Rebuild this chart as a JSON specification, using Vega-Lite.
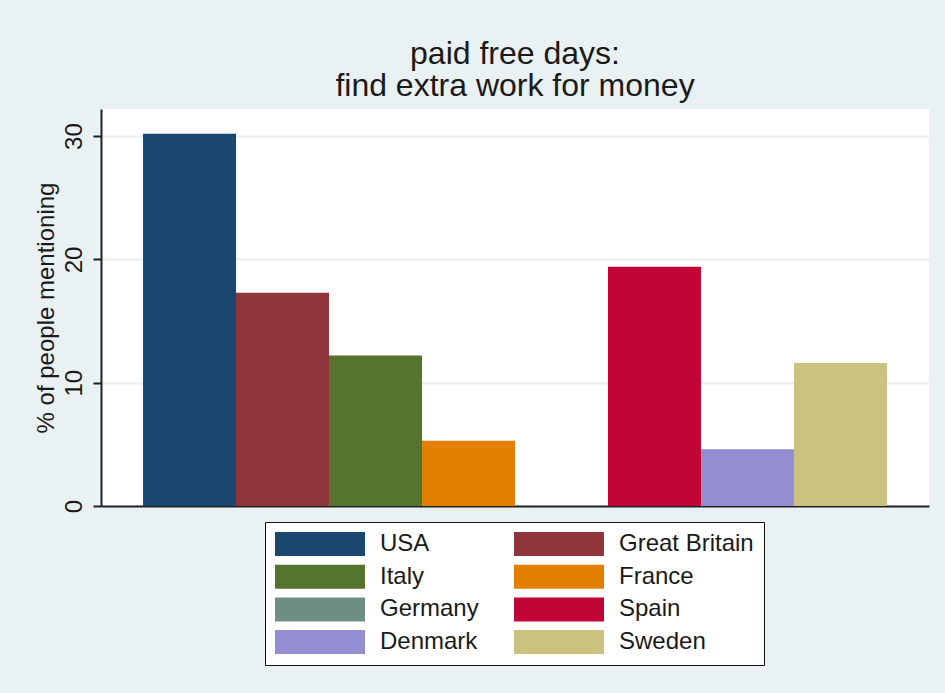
{
  "$schema": "https://vega.github.io/schema/vega-lite/v6.json",
  "width": 828,
  "height": 397,
  "autosize": {"type": "none"},
  "padding": {"left": 101, "top": 109, "right": 16, "bottom": 187},
  "background": "#e9f1f3",
  "view": {"fill": "white", "stroke": null},
  "title": {
    "text": ["paid free days:", "find extra work for money"],
    "fontSize": 32,
    "fontWeight": "normal",
    "font": "Liberation Sans",
    "color": "#1a1a1a",
    "lineHeight": 32,
    "anchor": "middle",
    "offset": 6
  },
  "config": {
    "font": "Liberation Sans"
  },
  "data": {
    "values": [
      {"country": "USA", "pct": 30.2},
      {"country": "Great Britain", "pct": 17.3},
      {"country": "Italy", "pct": 12.2},
      {"country": "France", "pct": 5.3},
      {"country": "Germany", "pct": 0},
      {"country": "Spain", "pct": 19.4},
      {"country": "Denmark", "pct": 4.6},
      {"country": "Sweden", "pct": 11.6}
    ]
  },
  "mark": {"type": "bar"},
  "encoding": {
    "x": {
      "field": "country",
      "type": "nominal",
      "sort": null,
      "scale": {"paddingInner": 0, "paddingOuter": 0.452},
      "axis": {
        "title": null,
        "labels": false,
        "ticks": false,
        "domain": true,
        "domainColor": "#222",
        "domainWidth": 2,
        "grid": false
      }
    },
    "y": {
      "field": "pct",
      "type": "quantitative",
      "scale": {"domain": [0, 32.2], "nice": false, "zero": true},
      "axis": {
        "title": "% of people mentioning",
        "titleFontSize": 24,
        "titleFontWeight": "normal",
        "titleColor": "#1a1a1a",
        "titlePadding": 4,
        "values": [0, 10, 20, 30],
        "labelFontSize": 24,
        "labelColor": "#1a1a1a",
        "labelAngle": -90,
        "labelAlign": "center",
        "labelBaseline": "alphabetic",
        "labelPadding": 12,
        "tickSize": 8,
        "tickColor": "#222",
        "tickWidth": 2,
        "domainColor": "#222",
        "domainWidth": 2,
        "grid": true,
        "gridColor": "#e6eef1",
        "gridWidth": 2
      }
    },
    "color": {
      "field": "country",
      "type": "nominal",
      "scale": {
        "domain": ["USA", "Great Britain", "Italy", "France", "Germany", "Spain", "Denmark", "Sweden"],
        "range": ["#1a476f", "#90353b", "#55752f", "#e37e00", "#6e8e84", "#c10534", "#938dd2", "#cac27e"]
      },
      "legend": {
        "title": null,
        "orient": "none",
        "direction": "horizontal",
        "legendX": 164,
        "legendY": 413,
        "columns": 2,
        "columnPadding": 35,
        "rowPadding": 8.7,
        "padding": 10,
        "fillColor": "white",
        "strokeColor": "#111",
        "symbolType": "M-12,-12H78V12H-12Z",
        "symbolSize": 4,
        "symbolStrokeWidth": 0,
        "symbolOpacity": 1,
        "labelFontSize": 24,
        "labelColor": "#1a1a1a",
        "labelOffset": 81,
        "labelLimit": 300
      }
    }
  }
}
